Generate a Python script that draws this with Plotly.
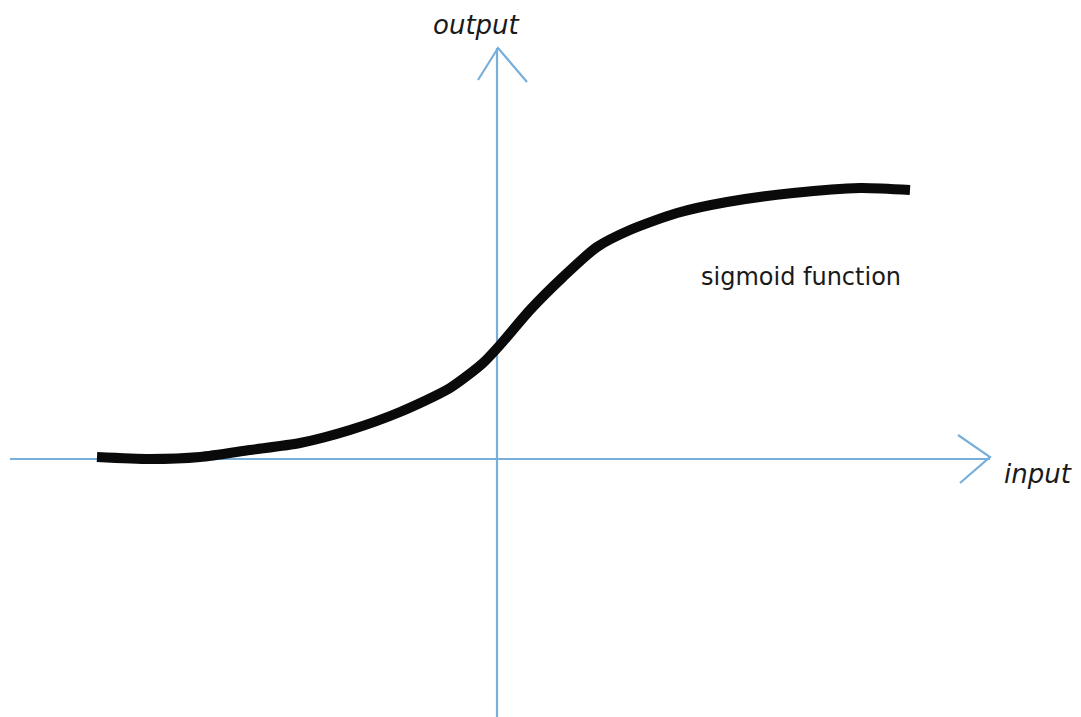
import plotly.graph_objects as go

# Sigmoid curve (input units, output units)
curve_x = [-4.00, -3.47, -2.97, -2.47, -1.97, -1.47, -0.97, -0.47, -0.14, 0.03,
           0.33, 0.66, 1.00, 1.33, 1.80, 2.30, 2.96, 3.63, 4.13]
curve_y = [0.02, 0.00, 0.02, 0.09, 0.16, 0.29, 0.47, 0.71, 0.96, 1.14,
           1.49, 1.82, 2.12, 2.29, 2.46, 2.57, 2.66, 2.71, 2.69]

# Axis lines and arrowheads
h_axis_x = [-4.87, 4.93]
h_axis_y = [0.0, 0.0]
h_arrow_x = [4.61, 4.93, 4.63]
h_arrow_y = [0.24, 0.02, -0.24]
v_axis_x = [0.0, 0.0]
v_axis_y = [-2.6, 4.11]
v_arrow_x = [-0.19, 0.01, 0.30]
v_arrow_y = [3.79, 4.11, 3.77]

labels = ["<i>output</i>", "<i>input</i>", "sigmoid function"]
label_x = [-0.21, 5.41, 3.04]
label_y = [4.34, -0.15, 1.82]
label_size = [26, 26, 24]

axis_color = "#78afda"

fig = go.Figure()
for xs, ys in [(h_axis_x, h_axis_y), (h_arrow_x, h_arrow_y),
               (v_axis_x, v_axis_y), (v_arrow_x, v_arrow_y)]:
    fig.add_trace(go.Scatter(x=xs, y=ys, mode="lines",
                             line=dict(color=axis_color, width=2.2),
                             hoverinfo="skip", showlegend=False))

fig.add_trace(go.Scatter(x=curve_x, y=curve_y, mode="lines",
                         line=dict(color="#0a0a0a", width=10, shape="spline", smoothing=0.7),
                         showlegend=False))

for t, x, y, s in zip(labels, label_x, label_y, label_size):
    fig.add_annotation(x=x, y=y, text=t, showarrow=False,
                       font=dict(family="DejaVu Sans", size=s, color="#1a1a1a"))

fig.update_layout(
    width=1081, height=717,
    margin=dict(l=0, r=0, t=0, b=0),
    paper_bgcolor="white", plot_bgcolor="white",
    xaxis=dict(range=[-4.97, 5.84], visible=False, fixedrange=True),
    yaxis=dict(range=[-2.58, 4.59], visible=False, fixedrange=True),
)

fig.write_html("out.html", config={"displayModeBar": False},
               post_script="document.body.style.margin='0px';")
